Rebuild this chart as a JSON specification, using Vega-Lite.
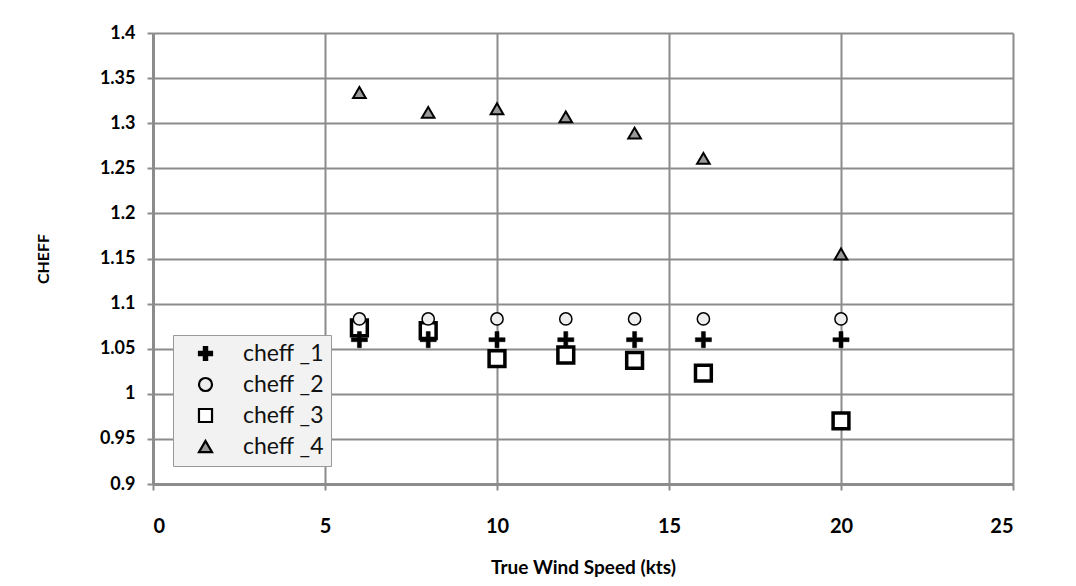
{
  "$schema": "https://vega.github.io/schema/vega-lite/v6.json",
  "width": 860,
  "height": 451,
  "autosize": "none",
  "padding": {"left": 153, "top": 33, "right": 63, "bottom": 102},
  "background": "white",
  "config": {
    "view": {"stroke": null},
    "font": "Lato"
  },
  "data": {
    "values": [
      {"tws": 6, "series": "cheff _1", "cheff": 1.06},
      {"tws": 8, "series": "cheff _1", "cheff": 1.06},
      {"tws": 10, "series": "cheff _1", "cheff": 1.06},
      {"tws": 12, "series": "cheff _1", "cheff": 1.06},
      {"tws": 14, "series": "cheff _1", "cheff": 1.06},
      {"tws": 16, "series": "cheff _1", "cheff": 1.06},
      {"tws": 20, "series": "cheff _1", "cheff": 1.06},
      {"tws": 6, "series": "cheff _2", "cheff": 1.083},
      {"tws": 8, "series": "cheff _2", "cheff": 1.083},
      {"tws": 10, "series": "cheff _2", "cheff": 1.083},
      {"tws": 12, "series": "cheff _2", "cheff": 1.083},
      {"tws": 14, "series": "cheff _2", "cheff": 1.083},
      {"tws": 16, "series": "cheff _2", "cheff": 1.083},
      {"tws": 20, "series": "cheff _2", "cheff": 1.083},
      {"tws": 6, "series": "cheff _3", "cheff": 1.073},
      {"tws": 8, "series": "cheff _3", "cheff": 1.07},
      {"tws": 10, "series": "cheff _3", "cheff": 1.039},
      {"tws": 12, "series": "cheff _3", "cheff": 1.043},
      {"tws": 14, "series": "cheff _3", "cheff": 1.037},
      {"tws": 16, "series": "cheff _3", "cheff": 1.023},
      {"tws": 20, "series": "cheff _3", "cheff": 0.97},
      {"tws": 6, "series": "cheff _4", "cheff": 1.334},
      {"tws": 8, "series": "cheff _4", "cheff": 1.312},
      {"tws": 10, "series": "cheff _4", "cheff": 1.316},
      {"tws": 12, "series": "cheff _4", "cheff": 1.307},
      {"tws": 14, "series": "cheff _4", "cheff": 1.289},
      {"tws": 16, "series": "cheff _4", "cheff": 1.261},
      {"tws": 20, "series": "cheff _4", "cheff": 1.155}
    ]
  },
  "encoding": {
    "x": {
      "field": "tws", "type": "quantitative",
      "scale": {"domain": [0, 25], "nice": false, "zero": false},
      "axis": {
        "title": "True Wind Speed (kts)",
        "values": [0, 5, 10, 15, 20, 25],
        "grid": true, "gridColor": "#8c8c8c", "gridWidth": 2,
        "domainColor": "#8c8c8c", "domainWidth": 3,
        "tickColor": "#8c8c8c", "tickWidth": 2, "tickSize": 6,
        "labelFont": "Lato", "labelFontWeight": "bold", "labelFontSize": 20, "labelColor": "black",
        "labelPadding": 26,
        "titleFont": "Lato", "titleFontWeight": "bold", "titleFontSize": 19, "titleColor": "black",
        "titlePadding": 22
      }
    },
    "y": {
      "field": "cheff", "type": "quantitative",
      "scale": {"domain": [0.9, 1.4], "nice": false, "zero": false},
      "axis": {
        "title": "CHEFF",
        "format": ".2~f",
        "values": [0.9, 0.95, 1, 1.05, 1.1, 1.15, 1.2, 1.25, 1.3, 1.35, 1.4],
        "grid": true, "gridColor": "#8c8c8c", "gridWidth": 2,
        "domainColor": "#8c8c8c", "domainWidth": 3,
        "tickColor": "#8c8c8c", "tickWidth": 2, "tickSize": 6,
        "labelFont": "Lato", "labelFontWeight": "bold", "labelFontSize": 18, "labelColor": "black",
        "labelPadding": 12,
        "titleFont": "Lato", "titleFontWeight": "bold", "titleFontSize": 16, "titleColor": "black",
        "titlePadding": 48
      }
    },
    "shape": {
      "field": "series", "type": "nominal",
      "scale": {"domain": ["cheff _1", "cheff _2", "cheff _3", "cheff _4"], "range": ["M-1,-0.25H-0.25V-1H0.25V-0.25H1V0.25H0.25V1H-0.25V0.25H-1Z", "circle", "square", "triangle-up"]},
      "legend": {
        "title": null,
        "orient": "none", "legendX": 20, "legendY": 302,
        "fillColor": "#f2f2f2", "strokeColor": "#999999",
        "padding": 7, "labelFont": "Lato", "labelFontSize": 23, "labelColor": "#111111",
        "symbolOffset": 14, "labelOffset": 26, "rowPadding": 7, "symbolOpacity": 1,
        "symbolSize": 170, "symbolStrokeWidth": 2.2,
        "labelExpr": "datum.label + '\u00a0\u00a0'",
        "labelLimit": 250
      }
    },
    "fill": {
      "field": "series", "type": "nominal",
      "scale": {"domain": ["cheff _1", "cheff _2", "cheff _3", "cheff _4"], "range": ["#000000", "#eeeeee", "#ffffff", "#999999"]}
    },
    "stroke": {
      "field": "series", "type": "nominal",
      "scale": {"domain": ["cheff _1", "cheff _2", "cheff _3", "cheff _4"], "range": ["#000000", "#000000", "#000000", "#000000"]}
    }
  },
  "layer": [
    {"transform": [{"filter": "datum.series === 'cheff _3'"}], "mark": {"type": "point", "filled": false, "opacity": 1, "strokeWidth": 3.5, "size": 250}},
    {"transform": [{"filter": "datum.series === 'cheff _2'"}], "mark": {"type": "point", "filled": false, "opacity": 1, "strokeWidth": 1.5, "size": 150}},
    {"transform": [{"filter": "datum.series === 'cheff _1'"}], "mark": {"type": "point", "filled": false, "opacity": 1, "strokeWidth": 0.5, "size": 260}},
    {"transform": [{"filter": "datum.series === 'cheff _4'"}], "mark": {"type": "point", "filled": false, "opacity": 1, "strokeWidth": 2, "size": 160}}
  ]
}
